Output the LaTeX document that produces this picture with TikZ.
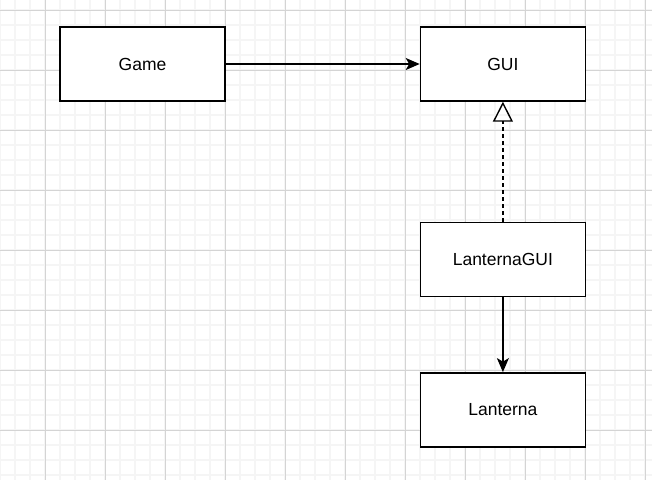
\documentclass[tikz,border=0pt]{standalone}
\usepackage{fontspec}
\setmainfont{Liberation Sans}
\usetikzlibrary{arrows.meta,positioning}

\begin{document}
\begin{tikzpicture}[
    x=1pt, y=-1pt,
    node distance=120pt,
    classbox/.style={rectangle, draw, line width=1.4pt, fill=white, minimum width=165pt, minimum height=74pt, font=\fontsize{17.5}{20}\selectfont},
    arrow/.style={line width=1.4pt, -{Stealth[length=14pt, width=12pt, inset=3.5pt]}},
    realize/.style={line width=1.4pt, dash pattern=on 4pt off 3pt, -{Triangle[open, length=20pt, width=20pt, line width=1.4pt]}}
]

% Background grid
\useasboundingbox (0,0) rectangle (652,480);
\fill[white] (0,0) rectangle (652,480);
\foreach \gx in {0,15,...,650} \draw[black!4, line width=1.2pt] (\gx,0) -- (\gx,480);
\foreach \gy in {10,25,...,479} \draw[black!4, line width=1.2pt] (0,\gy) -- (652,\gy);
\foreach \gx in {45,105,...,650} \draw[black!17, line width=0.8pt] (\gx,0) -- (\gx,480);
\foreach \gy in {10,70,...,479} \draw[black!17, line width=0.8pt] (0,\gy) -- (652,\gy);

% Classes
\node[classbox] (game) at (142.5,64) {Game};
\node[classbox, right=194pt of game] (gui) {GUI};
\node[classbox, below=120pt of gui] (lanternagui) {LanternaGUI};
\node[classbox, below=75pt of lanternagui] (lanterna) {Lanterna};

% Relations
\draw[arrow] (game) -- (gui);
\draw[realize] (lanternagui) -- (gui);
\draw[arrow] (lanternagui) -- (lanterna);

\end{tikzpicture}
\end{document}
